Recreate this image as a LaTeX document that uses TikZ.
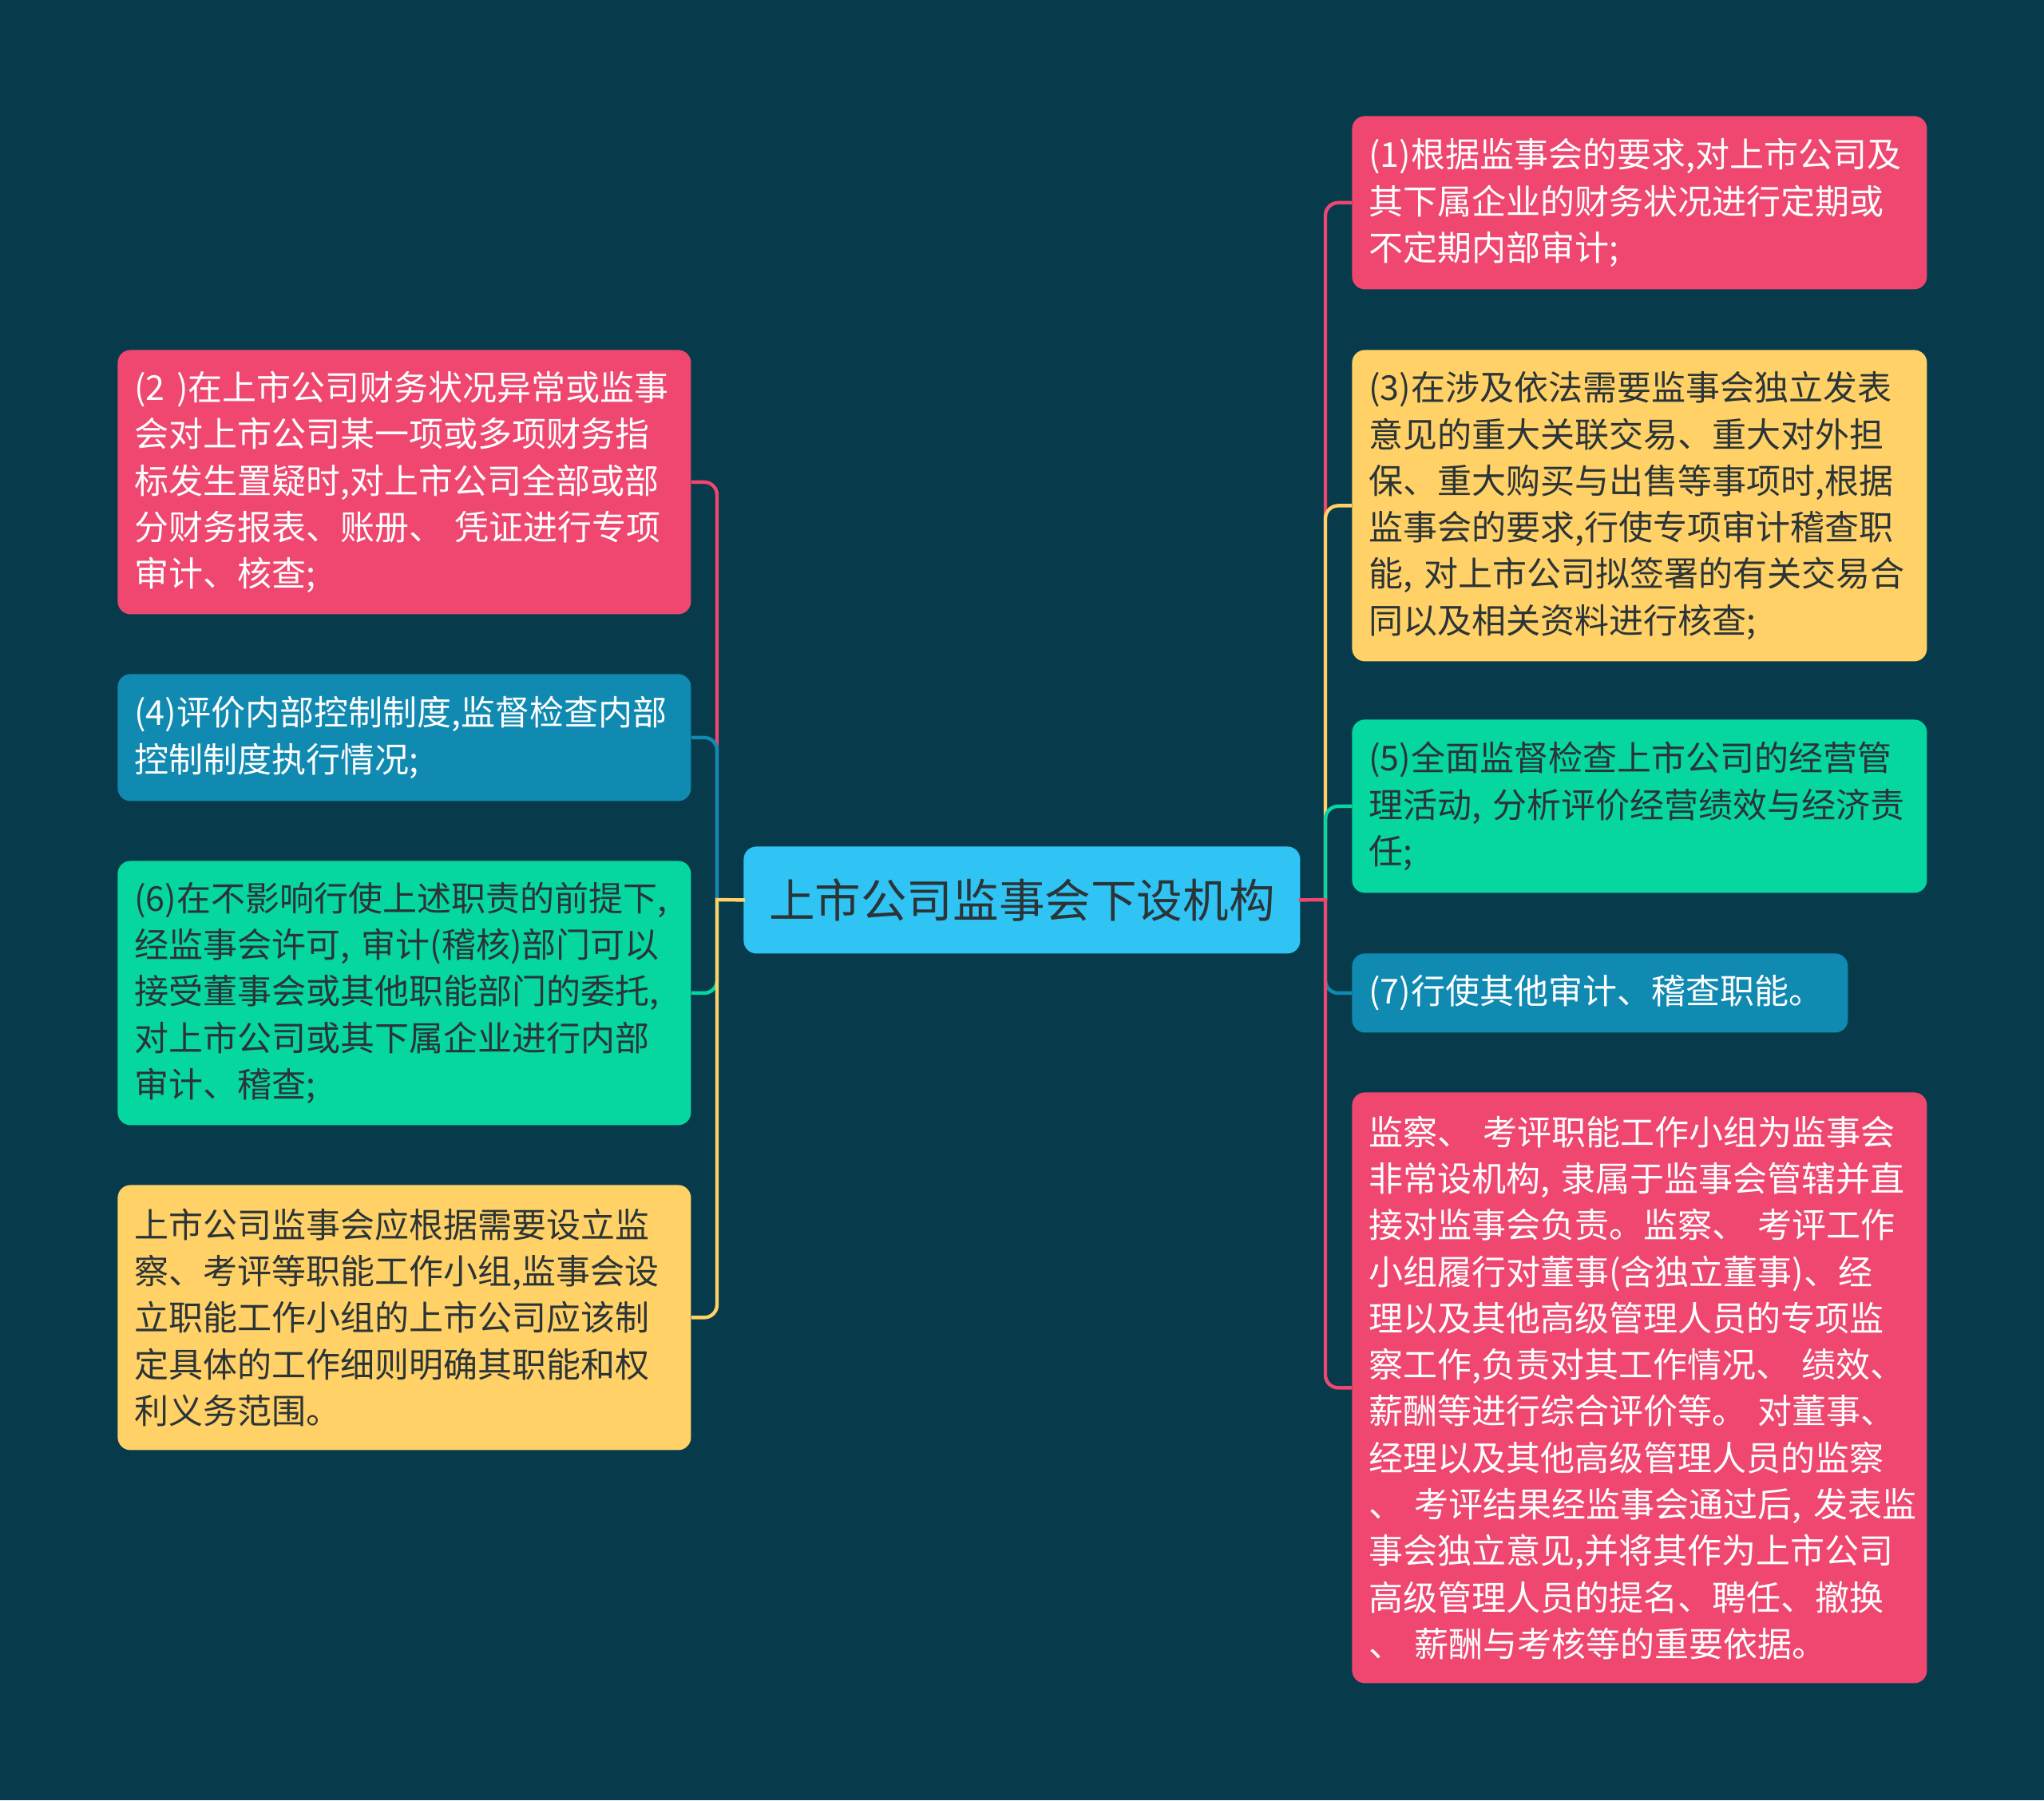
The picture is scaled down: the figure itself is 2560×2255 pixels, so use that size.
\documentclass[tikz,border=0pt]{standalone}
\usepackage{fontspec}
\setmainfont{Noto Sans CJK SC}
\definecolor{bgc}{HTML}{073B4C}
\definecolor{pinkc}{HTML}{EF476F}
\definecolor{yelc}{HTML}{FFD166}
\definecolor{grnc}{HTML}{06D6A0}
\definecolor{bluc}{HTML}{118AB2}
\definecolor{cenc}{HTML}{30C4F5}
\definecolor{darkt}{HTML}{2B3437}
\newcommand{\ml}[1]{\mbox{#1}}
\begin{document}
\begin{tikzpicture}[x=0.5pt,y=-0.5pt,
  box/.style={rounded corners=8pt, inner xsep=10.5pt, inner ysep=0pt, align=left,
    anchor=north west, font=\fontsize{21.5}{29.15}\selectfont},
  lw/.style={box, text width=338pt, minimum width=359pt},
  rw/.style={box, text width=339pt, minimum width=360pt},
  conn/.style={line width=2.2pt},
  stub/.style={line width=2.2pt, line cap=rect}]
\useasboundingbox (0,0) rectangle (2560,2255);
\fill[bgc] (0,0) rectangle (2560,2255);

% center
\node[rounded corners=8pt, fill=cenc, text=darkt, minimum width=348.5pt, minimum height=67pt,
  inner sep=0pt, anchor=north west, font=\fontsize{28.8}{34}\selectfont] (c) at (931,1060) {上市公司监事会下设机构};

% left boxes
\node[lw, fill=pinkc, text=white, minimum height=165.5pt] (l1) at (147,438) {%
\ml{(2 )在上市公司财务状况异常或监事}\\
\ml{会对上市公司某一项或多项财务指}\\
\ml{标发生置疑时,对上市公司全部或部}\\
\ml{分财务报表、账册、 凭证进行专项}\\
\ml{审计、核查;}};
\node[lw, fill=bluc, text=white, minimum height=79.5pt] (l2) at (147,844) {%
\ml{(4)评价内部控制制度,监督检查内部}\\
\ml{控制制度执行情况;}};
\node[lw, fill=grnc, text=darkt, minimum height=165.5pt] (l3) at (147,1078) {%
\ml{(6)在不影响行使上述职责的前提下,}\\
\ml{经监事会许可, 审计(稽核)部门可以}\\
\ml{接受董事会或其他职能部门的委托,}\\
\ml{对上市公司或其下属企业进行内部}\\
\ml{审计、稽查;}};
\node[lw, fill=yelc, text=darkt, minimum height=166pt] (l4) at (147,1484) {%
\ml{上市公司监事会应根据需要设立监}\\
\ml{察、考评等职能工作小组,监事会设}\\
\ml{立职能工作小组的上市公司应该制}\\
\ml{定具体的工作细则明确其职能和权}\\
\ml{利义务范围。}};

% right boxes
\node[rw, fill=pinkc, text=white, minimum height=108.5pt] (r1) at (1693,145) {%
\ml{(1)根据监事会的要求,对上市公司及}\\
\ml{其下属企业的财务状况进行定期或}\\
\ml{不定期内部审计;}};
\node[rw, fill=yelc, text=darkt, minimum height=195pt] (r2) at (1693,438) {%
\ml{(3)在涉及依法需要监事会独立发表}\\
\ml{意见的重大关联交易、重大对外担}\\
\ml{保、重大购买与出售等事项时,根据}\\
\ml{监事会的要求,行使专项审计稽查职}\\
\ml{能, 对上市公司拟签署的有关交易合}\\
\ml{同以及相关资料进行核查;}};
\node[rw, fill=grnc, text=darkt, minimum height=108.5pt] (r3) at (1693,901) {%
\ml{(5)全面监督检查上市公司的经营管}\\
\ml{理活动, 分析评价经营绩效与经济责}\\
\ml{任;}};
\node[box, fill=bluc, text=white, text width=289.5pt, minimum width=310.5pt, minimum height=49.5pt] (r4) at (1693,1194) {%
\ml{(7)行使其他审计、稽查职能。}};
\node[rw, fill=pinkc, text=white, minimum height=370pt] (r5) at (1693,1368) {%
\ml{监察、 考评职能工作小组为监事会}\\
\ml{非常设机构, 隶属于监事会管辖并直}\\
\ml{接对监事会负责。监察、 考评工作}\\
\ml{小组履行对董事(含独立董事)、经}\\
\ml{理以及其他高级管理人员的专项监}\\
\ml{察工作,负责对其工作情况、 绩效、}\\
\ml{薪酬等进行综合评价等。 对董事、}\\
\ml{经理以及其他高级管理人员的监察}\\
\ml{、 考评结果经监事会通过后, 发表监}\\
\ml{事会独立意见,并将其作为上市公司}\\
\ml{高级管理人员的提名、聘任、撤换}\\
\ml{、 薪酬与考核等的重要依据。}};

% connectors
\coordinate (lj) at (898,1127);
\coordinate (rj) at (1660,1127);
\begin{scope}[on background layer/.style={}]
\draw[conn, pinkc, rounded corners=8pt] (lj) |- (l1.east);
\draw[conn, bluc, rounded corners=8pt] (lj) |- (l2.east);
\draw[conn, grnc, rounded corners=8pt] (lj) |- (l3.east);
\draw[conn, yelc, rounded corners=8pt] (lj) |- (l4.east);
\draw[stub, yelc] (c.west) -- (lj);
\draw[conn, pinkc, rounded corners=8pt] (rj) |- (r1.west);
\draw[conn, yelc, rounded corners=8pt] (rj) |- (r2.west);
\draw[conn, grnc, rounded corners=8pt] (rj) |- (r3.west);
\draw[conn, bluc, rounded corners=8pt] (rj) |- (r4.west);
\draw[conn, pinkc, rounded corners=8pt] (rj) |- (r5.west);
\draw[stub, pinkc] (c.east) -- (rj);
\end{scope}
\end{tikzpicture}
\end{document}
